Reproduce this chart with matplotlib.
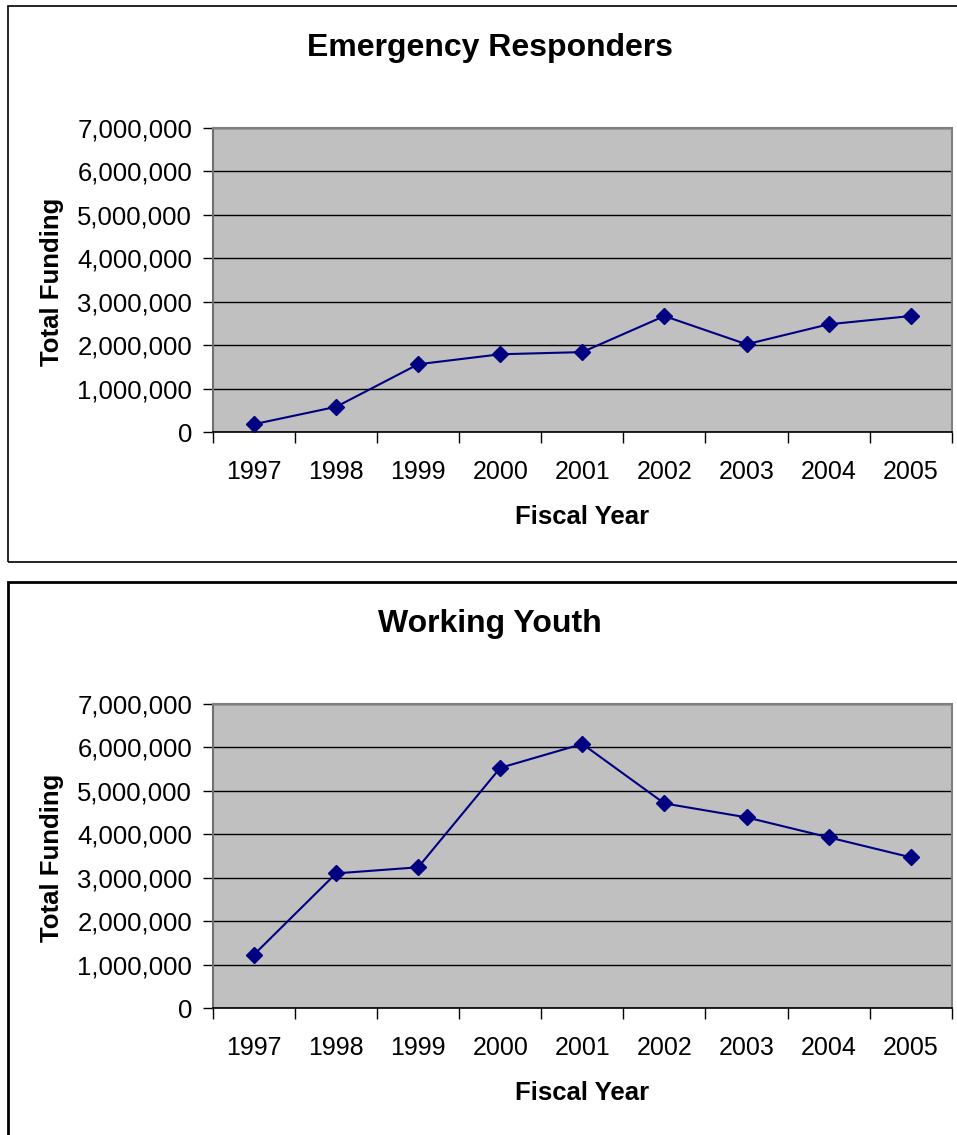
import matplotlib
matplotlib.use("Agg")
import matplotlib.pyplot as plt
from matplotlib.patches import Rectangle
from matplotlib.ticker import FuncFormatter, FixedLocator

plt.rcParams['font.family'] = ['Liberation Sans', 'DejaVu Sans']

years = ["1997", "1998", "1999", "2000", "2001", "2002", "2003", "2004", "2005"]
emergency_responders = [180000, 580000, 1560000, 1790000, 1840000, 2670000, 2020000, 2480000, 2670000]
working_youth = [1230000, 3100000, 3240000, 5530000, 6080000, 4710000, 4390000, 3930000, 3470000]
y_ticks = [0, 1000000, 2000000, 3000000, 4000000, 5000000, 6000000, 7000000]

W, H = 957, 1135
fig = plt.figure(figsize=(W / 100, H / 100), dpi=100)
fig.patch.set_facecolor("white")


def px_axes(left, top, right, bottom):
    return fig.add_axes([left / W, 1 - bottom / H, (right - left) / W, (bottom - top) / H])


def fig_text(x, y, s, **kw):
    fig.text(x / W, 1 - y / H, s, **kw)


# Outer frames around each chart
fig.add_artist(Rectangle((8 / W, 1 - 562 / H), 960 / W, 556 / H, transform=fig.transFigure,
                         fill=False, edgecolor="black", linewidth=1.2, clip_on=False))
fig.add_artist(Rectangle((8 / W, -10 / H), 960 / W, (H - 582 + 10) / H, transform=fig.transFigure,
                         fill=False, edgecolor="black", linewidth=2.0, clip_on=False))


def draw_chart(values, title, top):
    ax = px_axes(213, top + 128, 951.7, top + 432)
    ax.set_facecolor("#C0C0C0")
    x = list(range(len(years)))
    ax.plot(x, values, color="#000080", linewidth=1.5, marker="D",
            markersize=8, markerfacecolor="#000080", markeredgecolor="#000080", zorder=3)
    ax.set_xlim(-0.5, len(years) - 0.5)
    ax.set_ylim(0, 7000000)

    ax.yaxis.set_major_locator(FixedLocator(y_ticks))
    ax.yaxis.set_major_formatter(FuncFormatter(lambda v, p: f"{int(v):,}"))
    ax.grid(axis="y", color="black", linewidth=1.0)
    ax.set_axisbelow(True)
    ax.tick_params(axis="y", direction="out", length=7, width=1, color="black",
                   labelsize=18.5, pad=8)

    ax.xaxis.set_major_locator(FixedLocator([i - 0.5 for i in range(len(years) + 1)]))
    ax.xaxis.set_minor_locator(FixedLocator(x))
    ax.set_xticklabels([])
    ax.set_xticklabels(years, minor=True)
    ax.tick_params(axis="x", which="major", direction="out", length=8, width=1, color="black")
    ax.tick_params(axis="x", which="minor", length=0, labelsize=18, pad=20)

    for side in ("top", "right"):
        ax.spines[side].set_color("#808080")
        ax.spines[side].set_linewidth(1.5)
    ax.spines["left"].set_color("#707070")
    ax.spines["left"].set_linewidth(1.5)
    ax.spines["bottom"].set_color("black")
    ax.spines["bottom"].set_linewidth(1.2)

    fig_text(490, top + 48, title, fontsize=23, fontweight="bold", ha="center", va="center")
    fig_text(52, top + 282, "Total Funding", fontsize=18.5, fontweight="bold",
             rotation=90, ha="center", va="center")
    fig_text(582, top + 517, "Fiscal Year", fontsize=18.5, fontweight="bold",
             ha="center", va="center")
    return ax


draw_chart(emergency_responders, "Emergency Responders", 0)
draw_chart(working_youth, "Working Youth", 576)

fig.savefig("out.png", dpi=100, facecolor="white")
